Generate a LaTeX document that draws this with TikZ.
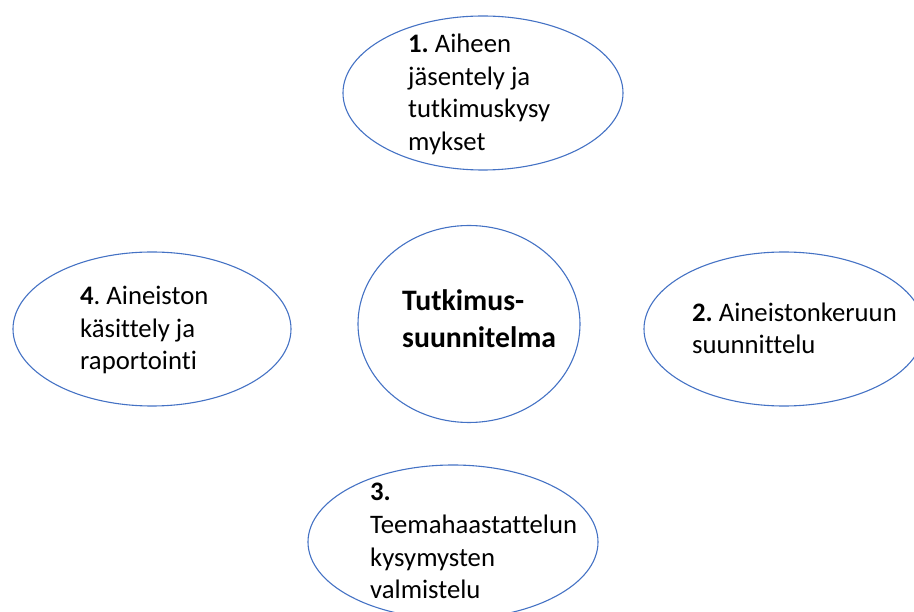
\documentclass[tikz,border=0pt]{standalone}
\usepackage{fontspec}
\setmainfont{Carlito}[Ligatures=NoCommon]
\usetikzlibrary{shapes.geometric}
\definecolor{ringblue}{RGB}{68,114,196}
\frenchspacing

\begin{document}
\begin{tikzpicture}[
x=1pt, y=-1pt,
ring/.style={draw=ringblue, line width=1.1pt, ellipse, inner sep=0pt},
txt/.style={align=left, inner sep=0pt, anchor=west, yshift=-4pt, font=\fontsize{26.7}{32.6}\selectfont,
  execute at begin node=\strut, execute at end node=\strut},
hubtxt/.style={txt, yshift=4pt, font=\fontsize{29.7}{36.2}\selectfont\bfseries}
]
\useasboundingbox (0,0) rectangle (914,612);

\node[ring, minimum width=280, minimum height=154] (aihe) at (483,93) {};
\node[ring, minimum width=222, minimum height=197] (hub) at (469,324) {};
\node[ring, minimum width=280, minimum height=154] (keruu) at (784,329) {};
\node[ring, minimum width=290, minimum height=154] (teema) at (453,542) {};
\node[ring, minimum width=278, minimum height=154] (kasittely) at (152,329) {};

\node[txt, xshift=-75] (aiheT) at (aihe.center) {\textbf{1.} Aiheen\\jäsentely ja\\tutkimuskysy\\mykset};
\node[hubtxt, xshift=-67] (hubT) at (hub.center) {Tutkimus-\\suunnitelma};
\node[txt, xshift=-92] (keruuT) at (keruu.center) {\textbf{2.} Aineistonkeruun\\suunnittelu};
\node[txt, xshift=-83] (teemaT) at (teema.center) {\textbf{3.}\\Teemahaastattelun\\kysymysten\\valmistelu};
\node[txt, xshift=-72] (kasittelyT) at (kasittely.center) {\textbf{4}. Aineiston\\käsittely ja\\raportointi};
\end{tikzpicture}
\end{document}
